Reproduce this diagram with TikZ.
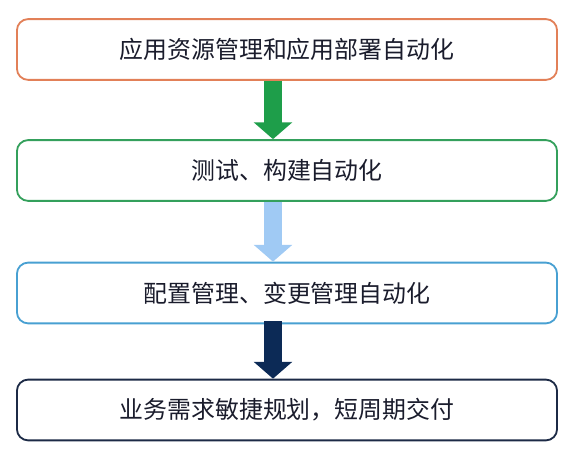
\documentclass[tikz,border=0pt]{standalone}
\usepackage{fontspec}
\usepackage{xcolor}
\usepackage{tikz}
\usetikzlibrary{arrows.meta,positioning}
\newfontfamily\cjk{Noto Sans CJK SC}
\definecolor{stepOrange}{RGB}{226,128,88}
\definecolor{stepGreen}{RGB}{52,160,92}
\definecolor{stepBlue}{RGB}{72,160,210}
\definecolor{stepNavy}{RGB}{28,42,70}
\definecolor{arrGreen}{RGB}{30,158,74}
\definecolor{arrLight}{RGB}{160,202,244}
\definecolor{arrNavy}{RGB}{12,42,86}
\definecolor{txtDark}{RGB}{26,28,44}

\begin{document}
\begin{tikzpicture}[x=0.025cm,y=-0.025cm,
  stagebox/.style={draw, line width=1.3pt, rounded corners=8pt, fill=white,
    minimum width=13.5cm, minimum height=1.52cm, text=txtDark,
    font=\cjk\fontsize{17}{20}\selectfont},
  fatarrow/.style={line width=0.46cm, -{Triangle[width=0.94cm,length=0.42cm]}}]
\useasboundingbox (0,0) rectangle (580,458);

\node[stagebox, draw=stepOrange] (apps) at (287,49.5) {应用资源管理和应用部署自动化};
\node[stagebox, draw=stepGreen] (build) at (287,170.5) {测试、构建自动化};
\node[stagebox, draw=stepBlue] (conf) at (287,293) {配置管理、变更管理自动化};
\node[stagebox, draw=stepNavy] (biz) at (287,410) {业务需求敏捷规划，短周期交付};

\draw[fatarrow, arrGreen] ([xshift=-0.35cm]apps.south) -- ([xshift=-0.35cm]build.north);
\draw[fatarrow, arrLight] ([xshift=-0.35cm]build.south) -- ([xshift=-0.35cm]conf.north);
\draw[fatarrow, arrNavy] ([xshift=-0.35cm,yshift=0.08cm]conf.south) -- ([xshift=-0.35cm]biz.north);
\end{tikzpicture}
\end{document}
